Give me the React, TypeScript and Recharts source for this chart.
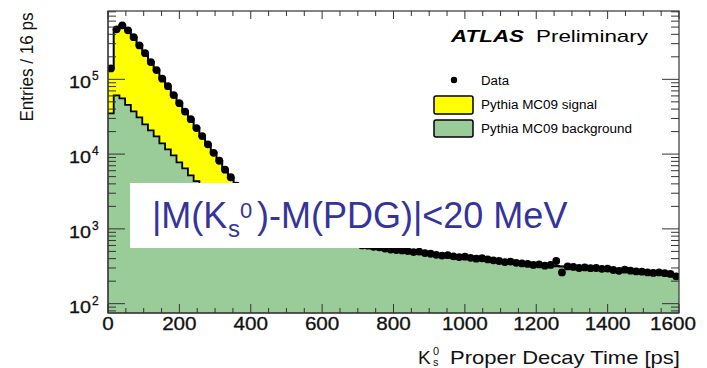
import React from 'react'
import { ComposedChart, Area, Scatter, XAxis, YAxis } from 'recharts'

// 16 ps bins from 0 to 1600 ps
const BIN_WIDTH = 16

const background = [
  35000, 61000, 55700, 45600, 37300, 31000, 25000, 20800, 17300, 13900,
  11560, 9600, 7750, 6440, 5190, 4350, 3680, 3140, 2700, 2340,
  2050, 1820, 1630, 1480, 1350, 1250, 1160, 1090, 1030, 975,
  930, 890, 855, 825, 795, 770, 745, 725, 705, 685,
  665, 650, 635, 620, 605, 590, 575, 560, 545, 532,
  521, 512, 503, 494, 486, 476, 466, 455, 446, 440,
  432, 424, 418, 410, 402, 396, 388, 380, 372, 364,
  360, 353, 346, 340, 334, 330, 324, 320, 316, 312,
  308, 304, 300, 298, 295, 292, 289, 286, 281, 277,
  276, 273, 270, 266, 262, 259, 256, 252, 247, 238,
]

const signal = [
  105000, 406000, 472000, 407000, 328000, 254000, 198000, 150000, 115000, 89000,
  69000, 52400, 40000, 30900, 24000, 18000, 13600, 10400, 7800, 5770,
  4190, 3060, 2180, 1450, 1060, 780, 570, 420, 310, 230,
  170, 125, 92, 68, 50, 37, 27, 20, 15, 11,
  8, 6, 5, 4, 3, 3, 2, 3, 2, 3,
  2, 2, 3, 2, 2, 3, 2, 2, 2, 3,
  2, 2, 2, 2, 3, 2, 2, 2, 2, 2,
  2, 2, 2, 2, 2, 2, 2, 2, 2, 2,
  2, 2, 2, 2, 2, 2, 2, 2, 2, 2,
  2, 2, 2, 2, 2, 2, 2, 2, 2, 2,
]

const dataCounts = [
  140000, 467000, 528000, 452000, 366000, 284000, 224000, 170000, 133000, 102000,
  81000, 61500, 48000, 37000, 29300, 22300, 17400, 13500, 10400, 8150,
  6200, 4900, 3800, 2950, 2400, 2040, 1720, 1520, 1330, 1210,
  1090, 1020, 940, 900, 840, 810, 770, 750, 715, 700,
  670, 660, 635, 628, 600, 596, 575, 566, 545, 530,
  520, 515, 505, 490, 495, 475, 465, 450, 440, 445,
  430, 420, 425, 410, 400, 405, 390, 380, 372, 360,
  365, 352, 345, 340, 330, 335, 322, 330, 372, 262,
  315, 310, 300, 305, 298, 300, 292, 295, 282, 275,
  285, 276, 270, 268, 262, 258, 262, 256, 250, 232,
]

const X_MAJOR = [0, 200, 400, 600, 800, 1000, 1200, 1400, 1600]
const Y_DECADES = [100, 1000, 10000, 100000]
const Y_MIN = 75
const Y_MAX = 820000

// histogram rows at bin edges (stepAfter), with a closing row at 1600
const hist = background.map((b, i) => ({ t: i * BIN_WIDTH, bg: b, total: b + signal[i] }))
hist.push({ ...hist[hist.length - 1], t: background.length * BIN_WIDTH })

const dots = dataCounts.map((n, i) => ({ t: i * BIN_WIDTH + BIN_WIDTH / 2, n }))

const xTicks = Array.from({ length: 33 }, (_, i) => i * 50)
const yTicks: number[] = []
;[10, 100, 1000, 10000, 100000].forEach(d => {
  for (let m = 1; m <= 9; m++) {
    const v = m * d
    if (v >= Y_MIN && v <= Y_MAX) yTicks.push(v)
  }
})

const W = 707
const H = 368
const PL = 108
const PR = 679
const PT = 11
const PB = 313
const FONT = '"Liberation Sans", Arial, Helvetica, sans-serif'
const AX = '#333'

function XTick(props: any) {
  const { x, payload } = props
  const v = payload.value as number
  const major = X_MAJOR.includes(v)
  const label = String(v)
  const lx = v === 1600 ? x - 6 : x
  return (
    <g>
      <line x1={x} x2={x} y1={PB} y2={PB - (major ? 9 : 5)} stroke={AX} />
      <line x1={x} x2={x} y1={PT} y2={PT + (major ? 8 : 5)} stroke={AX} />
      {major && (
        <text x={lx} y={330} textAnchor="middle" fontSize={18} fontFamily={FONT} fill="#111"
          stroke="#111" strokeWidth={0.3}
          textLength={label.length * 11.5} lengthAdjust="spacingAndGlyphs">{label}</text>
      )}
    </g>
  )
}

function YTick(props: any) {
  const { y, payload } = props
  const v = payload.value as number
  const major = Y_DECADES.includes(v)
  const len = major ? 17 : 8
  const exp = Math.round(Math.log10(v))
  return (
    <g>
      <line x1={PL} x2={PL + len} y1={y} y2={y} stroke={AX} />
      <line x1={PR} x2={PR - len} y1={y} y2={y} stroke={AX} />
      {major && (
        <g fontFamily={FONT} fill="#111" stroke="#111" strokeWidth={0.3}>
          <text x={69} y={y + 9} fontSize={17} textLength={22} lengthAdjust="spacingAndGlyphs">10</text>
          <text x={92} y={y + 1} fontSize={12}>{exp}</text>
        </g>
      )}
    </g>
  )
}

export default function App() {
  return (
    <div style={{ position: 'absolute', left: 0, top: 0, width: W, height: H, background: '#fff' }}>
      <ComposedChart width={W} height={H} data={hist} margin={{ top: PT, right: W - PR, bottom: 0, left: 0 }}>
        <Area type="stepAfter" dataKey="total" baseValue={Y_MIN} fill="#ffff00" fillOpacity={1}
          stroke="#000" strokeWidth={2} isAnimationActive={false} />
        <Area type="stepAfter" dataKey="bg" baseValue={Y_MIN} fill="#99cc99" fillOpacity={1}
          stroke="#000" strokeWidth={1.8} isAnimationActive={false} />
        <Scatter data={dots} dataKey="n" fill="#000" isAnimationActive={false}
          shape={(p: any) => <circle cx={p.cx} cy={p.cy} r={3.9} fill="#000" />} />
        <XAxis dataKey="t" type="number" domain={[0, 1600]} allowDataOverflow ticks={xTicks}
          interval={0} height={H - PB} tickLine={false} axisLine={{ stroke: AX }} tick={<XTick />} />
        <YAxis type="number" scale="log" domain={[Y_MIN, Y_MAX]} allowDataOverflow ticks={yTicks}
          interval={0} width={PL} tickLine={false} axisLine={{ stroke: AX }} tick={<YTick />} />
      </ComposedChart>
      <svg width={W} height={H} style={{ position: 'absolute', left: 0, top: 0, pointerEvents: 'none' }}
        fontFamily={FONT}>
        <rect x={PL} y={PT} width={PR - PL} height={PB - PT} fill="none" stroke={AX} strokeWidth={1.2} />
        <text transform="translate(33,67) rotate(-90)" textAnchor="middle" fontSize={18} fill="#111"
          textLength={109} lengthAdjust="spacingAndGlyphs">Entries / 16 ps</text>
        <text x={418} y={364} fontSize={19} fill="#111">K</text>
        <text x={433} y={355} fontSize={11} fill="#111">0</text>
        <text x={433} y={366} fontSize={11} fill="#111">s</text>
        <text x={450} y={364} fontSize={19} fill="#111" textLength={230}
          lengthAdjust="spacingAndGlyphs">Proper Decay Time [ps]</text>
        <text x={451} y={42} fontSize={17} fontWeight="bold" fontStyle="italic" fill="#000"
          textLength={73} lengthAdjust="spacingAndGlyphs">ATLAS</text>
        <text x={536} y={42} fontSize={17} fill="#000" textLength={112}
          lengthAdjust="spacingAndGlyphs">Preliminary</text>
        <circle cx={454} cy={80} r={3.2} fill="#000" />
        <text x={481} y={85} fontSize={12.5} fill="#000" textLength={28} lengthAdjust="spacingAndGlyphs">Data</text>
        <rect x={434} y={96} width={39} height={18} rx={2} fill="#ffff00" stroke="#000" strokeWidth={1.5} />
        <text x={481} y={109} fontSize={12.5} fill="#000" textLength={116}
          lengthAdjust="spacingAndGlyphs">Pythia MC09 signal</text>
        <rect x={434} y={120} width={39} height={17} rx={2} fill="#99cc99" stroke="#000" strokeWidth={1.5} />
        <text x={481} y={133} fontSize={12.5} fill="#000" textLength={151}
          lengthAdjust="spacingAndGlyphs">Pythia MC09 background</text>
        <rect x={130} y={183} width={470} height={65} fill="#fff" />
        <text y={228} fontSize={36} fill="#34349a">
          <tspan x={152}>|M(K</tspan>
          <tspan x={228} y={237} fontSize={24}>s</tspan>
          <tspan x={240} y={218} fontSize={22}>0</tspan>
          <tspan x={257} y={228}>)-M(PDG)|&lt;20 MeV</tspan>
        </text>
      </svg>
    </div>
  )
}
